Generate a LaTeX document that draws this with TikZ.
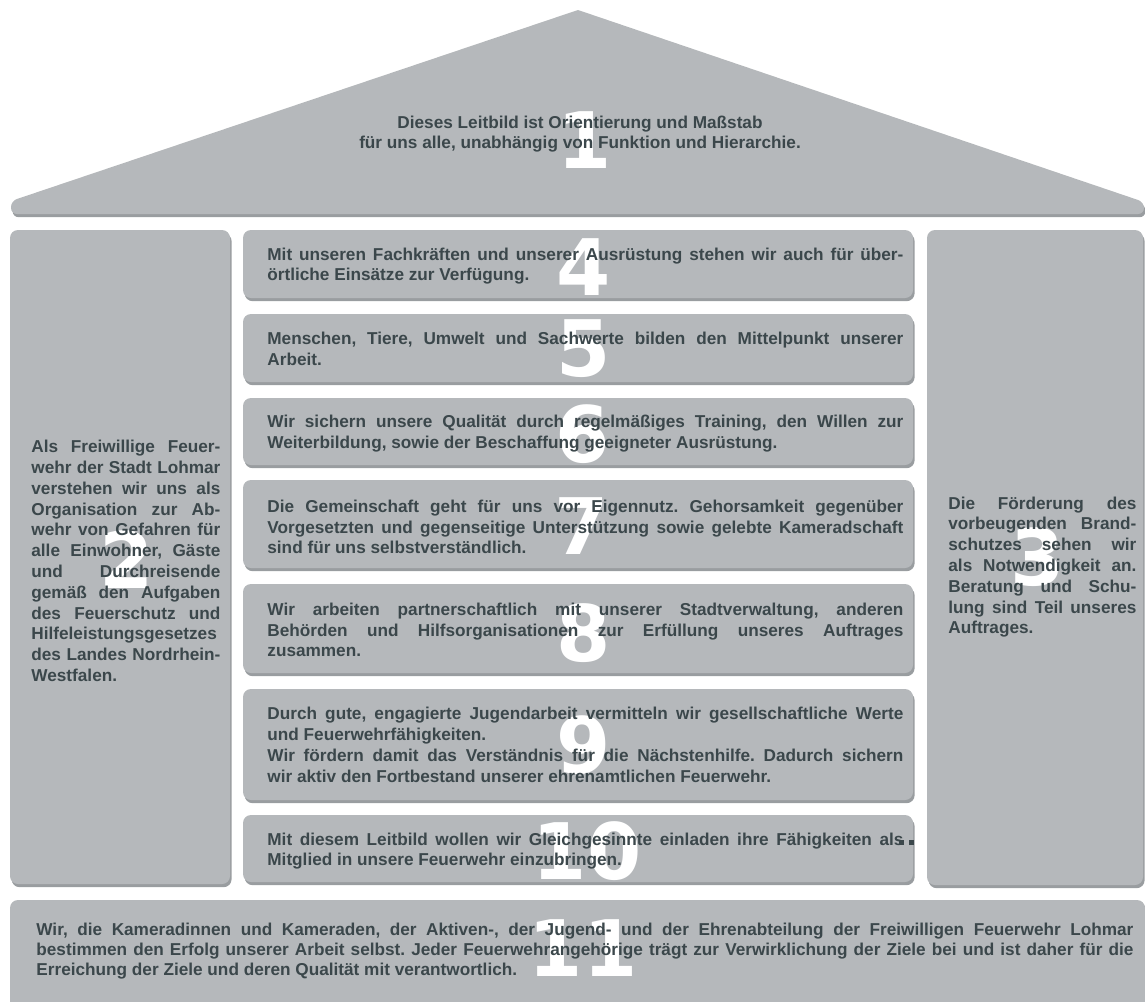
\documentclass[tikz,border=0pt]{standalone}
\usepackage{fontspec}
\setmainfont{Liberation Sans}
\newfontfamily\ziffernfont{DejaVu Sans}
\usetikzlibrary{shadows}
\definecolor{tafelgrau}{RGB}{181,184,187}
\definecolor{schatten}{RGB}{128,133,136}
\definecolor{schrift}{RGB}{59,71,75}
\tikzstyle{tafel}=[fill=tafelgrau, rounded corners=4pt, inner sep=0pt,
  drop shadow={shadow xshift=0.8pt, shadow yshift=-1.6pt, fill=schatten, opacity=.8}]
\tikzstyle{satz}=[anchor=west, inner sep=0pt, align=justify, text=schrift,
  font=\fontsize{8.6}{10.4}\selectfont\bfseries]
\tikzset{ziffer/.style={inner sep=0pt, text=white, font=\ziffernfont\bfseries\fontsize{39}{39}\selectfont}}
\hyphenpenalty=10000
\frenchspacing

\begin{document}
\begin{tikzpicture}[x=0.5pt,y=-0.5pt]
  \useasboundingbox (0,0) rectangle (1145,1001);

  %% Dach
  \path[fill=tafelgrau,
    drop shadow={shadow xshift=0.8pt, shadow yshift=-1.6pt, fill=schatten, opacity=.8}]
    (578,10) [rounded corners=3pt] -- (1144,202) -- (1144,214) -- (11,214) -- (11,201) [sharp corners] -- cycle;

  %% Saeulen und Tafeln
  \draw (120,557) node[tafel, minimum width=110pt, minimum height=327pt] (B2) {};
  \draw (1035,557.5) node[tafel, minimum width=108pt, minimum height=327.5pt] (B3) {};

  \draw (578,264) node[tafel, minimum width=335pt, minimum height=34pt] (B4) {};
  \draw (578,348) node[tafel, minimum width=335pt, minimum height=34pt] (B5) {};
  \draw (578,431.5) node[tafel, minimum width=335pt, minimum height=33.5pt] (B6) {};
  \draw (578,524) node[tafel, minimum width=335pt, minimum height=44pt] (B7) {};
  \draw (578,628.5) node[tafel, minimum width=335pt, minimum height=44.5pt] (B8) {};
  \draw (578,744.5) node[tafel, minimum width=335pt, minimum height=55.5pt] (B9) {};
  \draw (578,848.5) node[tafel, minimum width=335pt, minimum height=33.5pt] (B10) {};

  \draw (577.5,955) node[tafel, minimum width=567.5pt, minimum height=55pt] (B11) {};

  %% Ziffern
  \draw (585,140) node[ziffer] (Z1) {1};
  \draw (127,560) node[ziffer] (Z2) {2};
  \draw (1038,557) node[ziffer] (Z3) {3};
  \draw (584,267) node[ziffer] (Z4) {4};
  \draw (584,349) node[ziffer] (Z5) {5};
  \draw (583,434) node[ziffer] (Z6) {6};
  \draw (582,526) node[ziffer] (Z7) {7};
  \draw (584,633) node[ziffer] (Z8) {8};
  \draw (584,745) node[ziffer] (Z9) {9};
  \draw (587,851) node[ziffer] (Z10) {10};
  \draw (583,948) node[ziffer] (Z11) {11};

  %% Texte
  \draw (580,134) node[satz, anchor=center, align=center] (T1) {Dieses Leitbild ist Orientierung und Maßstab\\für uns alle, unabhängig von Funktion und Hierarchie.};

  \draw (31,561) node[satz, text width=94.5pt] (T2) {Als Freiwillige Feuer-\linebreak wehr der Stadt Lohmar\linebreak verstehen wir uns als\linebreak Organisation zur Ab-\linebreak wehr von Gefahren für\linebreak alle Einwohner, Gäste\linebreak und Durchreisende\linebreak gemäß den Aufgaben\linebreak des Feuerschutz und\linebreak Hilfeleistungsgesetzes\linebreak des Landes Nordrhein-\linebreak Westfalen.};

  \draw (948,567) node[satz, text width=94pt] (T3) {Die Förderung des\linebreak vorbeugenden Brand-\linebreak schutzes sehen wir\linebreak als Notwendigkeit an.\linebreak Beratung und Schu-\linebreak lung sind Teil unseres\linebreak Auftrages.};

  \draw (267,266) node[satz, text width=318pt] (T4) {Mit unseren Fachkräften und unserer Ausrüstung stehen wir auch für über-\linebreak örtliche Einsätze zur Verfügung.};
  \draw (267,349) node[satz, text width=318pt] (T5) {Menschen, Tiere, Umwelt und Sachwerte bilden den Mittelpunkt unserer\linebreak Arbeit.};
  \draw (267,433.5) node[satz, text width=318pt] (T6) {Wir sichern unsere Qualität durch regelmäßiges Training, den Willen zur\linebreak Weiterbildung, sowie der Beschaffung geeigneter Ausrüstung.};
  \draw (267,527) node[satz, text width=318pt] (T7) {Die Gemeinschaft geht für uns vor Eigennutz. Gehorsamkeit gegenüber\linebreak Vorgesetzten und gegenseitige Unterstützung sowie gelebte Kameradschaft\linebreak sind für uns selbstverständlich.};
  \draw (267,630) node[satz, text width=318pt] (T8) {Wir arbeiten partnerschaftlich mit unserer Stadtverwaltung, anderen\linebreak Behörden und Hilfsorganisationen zur Erfüllung unseres Auftrages\linebreak zusammen.};
  \draw (267,745) node[satz, text width=318pt] (T9) {Durch gute, engagierte Jugendarbeit vermitteln wir gesellschaftliche Werte\linebreak und Feuerwehrfähigkeiten.\par Wir fördern damit das Verständnis für die Nächstenhilfe. Dadurch sichern\linebreak wir aktiv den Fortbestand unserer ehrenamtlichen Feuerwehr.};
  \draw (267,851) node[satz, text width=318pt] (T10) {Mit diesem Leitbild wollen wir Gleichgesinnte einladen ihre Fähigkeiten als\rlap{\kern-2.4pt\rule{2.6pt}{2.6pt}\kern2.6pt\rule{2.6pt}{2.6pt}}\linebreak Mitglied in unsere Feuerwehr einzubringen.};

  \draw (36,951) node[satz, text width=548.5pt, font=\fontsize{8.6}{9.8}\selectfont\bfseries] (T11) {Wir, die Kameradinnen und Kameraden, der Aktiven-, der Jugend- und der Ehrenabteilung der Freiwilligen Feuerwehr Lohmar\linebreak bestimmen den Erfolg unserer Arbeit selbst. Jeder Feuerwehrangehörige trägt zur Verwirklichung der Ziele bei und ist daher für die\linebreak Erreichung der Ziele und deren Qualität mit verantwortlich.};
\end{tikzpicture}
\end{document}
